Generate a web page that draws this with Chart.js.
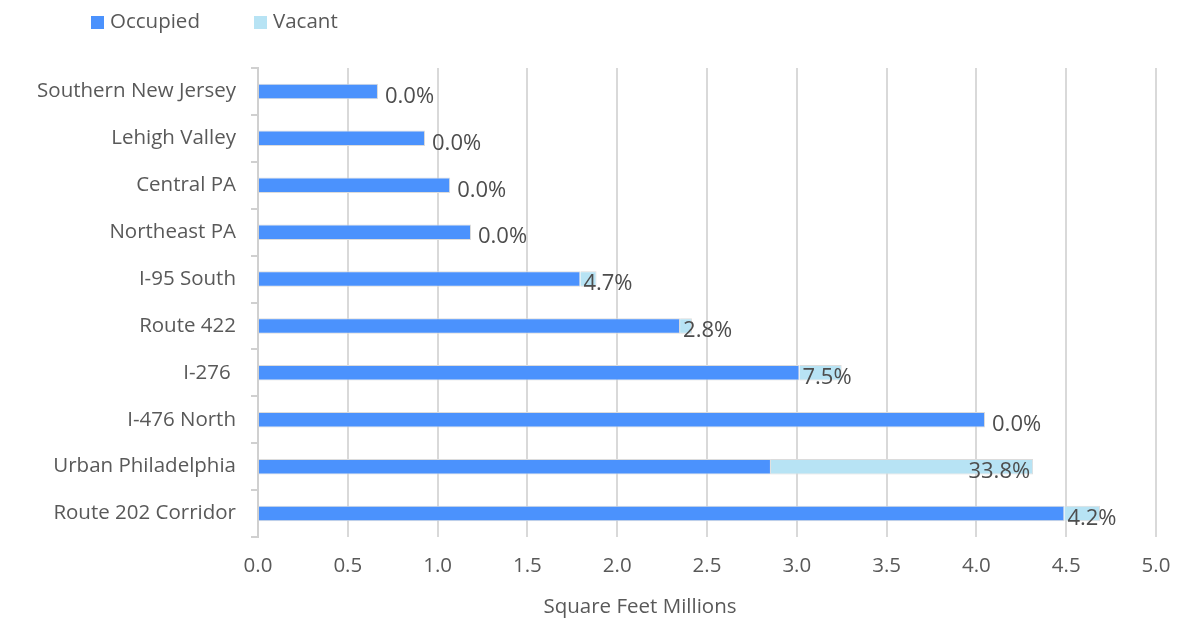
<!DOCTYPE html>
<html>
<head>
<meta charset="utf-8">
<script src="https://cdn.jsdelivr.net/npm/chart.js@4"></script>
<style>
  html, body { margin: 0; padding: 0; background: #fff; }
  #wrap { width: 1196px; height: 622px; }
</style>
</head>
<body>
<div id="wrap"><canvas id="myChart" width="1196" height="622"></canvas></div>
<script>
// markets, top to bottom
var categories = [
    'Southern New Jersey',
    'Lehigh Valley',
    'Central PA',
    'Northeast PA',
    'I-95 South',
    'Route 422',
    'I-276 ',
    'I-476 North',
    'Urban Philadelphia',
    'Route 202 Corridor'
];
// million sq ft
var occupied = [0.668, 0.93, 1.07, 1.186, 1.795, 2.35, 3.015, 4.048, 2.856, 4.49];
var vacant = [0, 0, 0, 0, 0.09, 0.066, 0.235, 0, 1.46, 0.198];
// vacancy rate shown at the end of each bar
var vacancyPct = [0.0, 0.0, 0.0, 0.0, 4.7, 2.8, 7.5, 0.0, 33.8, 4.2];
var xTicks = [0, 0.5, 1, 1.5, 2, 2.5, 3, 3.5, 4, 4.5, 5];
var xTitle = 'Square Feet Millions';

var FONT = "'Open Sans', 'Noto Sans', sans-serif";

// legend top-left and axis title, placed like the original
var extras = {
    id: 'extras',
    afterDraw: function (chart) {
        var ctx = chart.ctx;
        var items = [{x: 91}, {x: 254}];
        ctx.save();
        ctx.font = '20.5px ' + FONT;
        ctx.textBaseline = 'middle';
        chart.data.datasets.forEach(function (ds, i) {
            var x = items[i].x;
            ctx.fillStyle = ds.backgroundColor;
            ctx.fillRect(x, 16, 13, 13);
            ctx.fillStyle = '#595959';
            ctx.fillText(ds.label, x + 19, 22);
        });
        ctx.textAlign = 'center';
        ctx.fillText(xTitle, 640, 607);
        ctx.restore();
    }
};

// percentage labels at the vacant segment
var pctLabels = {
    id: 'pctLabels',
    afterDatasetsDraw: function (chart) {
        var ctx = chart.ctx;
        var meta = chart.getDatasetMeta(1);
        ctx.save();
        ctx.font = '22px ' + FONT;
        ctx.fillStyle = '#4d4d4d';
        ctx.textBaseline = 'middle';
        meta.data.forEach(function (el, i) {
            var txt = vacancyPct[i].toFixed(1) + '%';
            var w = ctx.measureText(txt).width;
            var start = Math.min(el.base, el.x);
            var end = Math.max(el.base, el.x);
            var x;
            if (end - start < 1) {
                x = end + 7;
            } else {
                x = Math.max(start + 3, end - w - 3);
            }
            ctx.fillText(txt, x, el.y + 5);
        });
        ctx.restore();
    }
};

var ctx = document.getElementById('myChart').getContext('2d');
var chart = new Chart(ctx, {
    type: 'bar',
    data: {
        labels: categories,
        datasets: [{
            label: 'Occupied',
            data: occupied,
            backgroundColor: '#4b92fd',
            borderColor: '#dcdcdc',
            borderWidth: 1
        }, {
            label: 'Vacant',
            data: vacant,
            backgroundColor: '#b7e3f4',
            borderColor: '#dcdcdc',
            borderWidth: 1
        }]
    },
    plugins: [extras, pctLabels],
    options: {
        indexAxis: 'y',
        responsive: false,
        animation: false,
        barPercentage: 0.33,
        categoryPercentage: 1,
        layout: {
            padding: {top: 68, right: 40, bottom: 0, left: 0}
        },
        plugins: {
            legend: {display: false},
            tooltip: {enabled: false}
        },
        scales: {
            x: {
                stacked: true,
                min: 0,
                max: 5,
                afterBuildTicks: function (scale) {
                    scale.ticks = xTicks.map(function (v) { return {value: v}; });
                },
                afterFit: function (scale) { scale.height = 85; },
                grid: {color: '#d9d9d9', lineWidth: 2, drawTicks: false},
                border: {display: false},
                ticks: {
                    padding: 17,
                    color: '#595959',
                    font: {family: FONT, size: 20.5},
                    callback: function (v) { return Number(v).toFixed(1); }
                }
            },
            y: {
                stacked: true,
                afterFit: function (scale) { scale.width = 258; },
                grid: {
                    offset: true,
                    drawOnChartArea: false,
                    tickLength: 7,
                    color: '#d0d0d0',
                    lineWidth: 2
                },
                border: {color: '#d0d0d0', width: 2},
                ticks: {
                    padding: 15,
                    color: '#595959',
                    font: {family: FONT, size: 20.5}
                }
            }
        }
    }
});
</script>
</body>
</html>
